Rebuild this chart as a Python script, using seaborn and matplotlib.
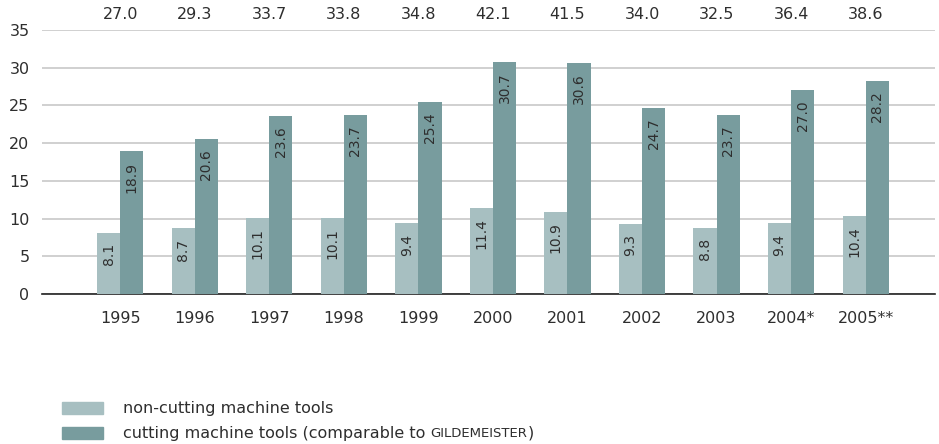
import matplotlib
matplotlib.use("Agg")
import matplotlib.pyplot as plt
import seaborn as sns
import pandas as pd

years = ["1995", "1996", "1997", "1998", "1999", "2000", "2001", "2002", "2003", "2004*", "2005**"]
non_cutting = [8.1, 8.7, 10.1, 10.1, 9.4, 11.4, 10.9, 9.3, 8.8, 9.4, 10.4]
cutting = [18.9, 20.6, 23.6, 23.7, 25.4, 30.7, 30.6, 24.7, 23.7, 27.0, 28.2]
series_names = ["non-cutting machine tools", "cutting machine tools"]
colors = ["#a7bfc1", "#789c9e"]
y_ticks = [0, 5, 10, 15, 20, 25, 30, 35]

df = pd.DataFrame({
    "year": years * 2,
    "value": non_cutting + cutting,
    "series": [series_names[0]] * len(years) + [series_names[1]] * len(years),
})

sns.set_theme(style="white")
plt.rcParams["font.family"] = ["DejaVu Sans"]
text_color = "#2e2e2e"
fs = 11.5

fig = plt.figure(figsize=(9.39, 4.44), dpi=100)
ax = fig.add_axes([0.0447, 0.3378, 0.951, 0.5946])

sns.barplot(data=df, x="year", y="value", hue="series", palette=colors,
            width=0.62, saturation=1, gap=0, legend=False, ax=ax,
            linewidth=0, edgecolor="none", zorder=3)

ax.set_ylim(0, 35)
ax.set_xlim(-1.05, 10.93)
ax.set_yticks(y_ticks)
ax.set_xlabel("")
ax.set_ylabel("")
ax.yaxis.grid(True, color="#c8c8c8", linewidth=1.2, zorder=0)
ax.set_axisbelow(True)
for s in ["top", "right", "left"]:
    ax.spines[s].set_visible(False)
ax.spines["bottom"].set_color("#222222")
ax.spines["bottom"].set_linewidth(1.2)
ax.tick_params(axis="both", length=0, labelsize=fs, colors=text_color)
ax.tick_params(axis="y", pad=9)
ax.tick_params(axis="x", pad=12)

# value labels inside bars
for container in ax.containers:
    for bar in container:
        h = bar.get_height()
        ax.annotate(f"{h:.1f}", (bar.get_x() + bar.get_width() / 2, h),
                    xytext=(0, -7.5), textcoords="offset points",
                    rotation=90, ha="center", va="top",
                    fontsize=10, color=text_color, zorder=5)

# totals above the plot
for i, (a, b) in enumerate(zip(non_cutting, cutting)):
    ax.text(i, 37.0, f"{a + b:.1f}", ha="center", va="center",
            fontsize=fs, color=text_color, clip_on=False)

# legend
fig.patches.append(plt.Rectangle((62 / 939, 1 - 414 / 444), 41 / 939, 12 / 444,
                                 transform=fig.transFigure, color=colors[0]))
fig.patches.append(plt.Rectangle((62 / 939, 1 - 439 / 444), 41 / 939, 12 / 444,
                                 transform=fig.transFigure, color=colors[1]))
fig.text(123 / 939, 1 - 408 / 444, "non-cutting machine tools", ha="left", va="center",
         fontsize=fs, color=text_color)
t1 = fig.text(123 / 939, 1 - 433 / 444, "cutting machine tools (comparable to ",
              ha="left", va="center", fontsize=fs, color=text_color)
fig.canvas.draw()
r = fig.canvas.get_renderer()
bb = t1.get_window_extent(r)
t2 = fig.text(bb.x1 / fig.bbox.width, 1 - 433 / 444, "GILDEMEISTER", ha="left", va="center",
              fontsize=9.5, color=text_color)
bb2 = t2.get_window_extent(r)
fig.text(bb2.x1 / fig.bbox.width, 1 - 433 / 444, ")", ha="left", va="center",
         fontsize=fs, color=text_color)

fig.savefig("out.png", dpi=100)
